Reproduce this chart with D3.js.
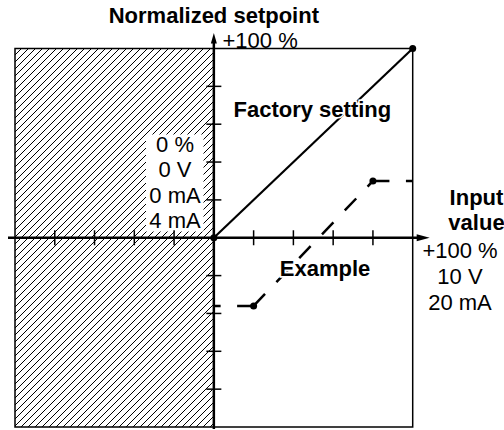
<!DOCTYPE html>
<html>
<head>
<meta charset="utf-8">
<script src="https://cdn.jsdelivr.net/npm/d3@7"></script>
<style>
  html, body { margin: 0; padding: 0; background: #fff; }
  svg { display: block; font-family: "Liberation Sans", Arial, Helvetica, sans-serif; }
</style>
</head>
<body>
<svg id="chart" width="504" height="430"></svg>
<script>
// Axis ticks (percent of full scale)
const xTicks = [-80, -60, -40, -20, 20, 40, 60, 80];
const yTicks = [-80, -60, -40, -20, 20, 40, 60, 80];

// Factory setting: input 0..100 % maps to setpoint 0..100 %
const factoryX = [0, 100];
const factoryY = [0, 100];

// Example scaling curve
const exampleX = [0, 20, 80, 100];
const exampleY = [-36, -36, 30, 30];

// Text labels
const zeroLabels = ["0 %", "0 V", "0 mA", "4 mA"];
const fullLabels = ["+100 %", "10 V", "20 mA"];
const inputTitle = ["Input", "value"];
const yTitle = "Normalized setpoint";
const yTopLabel = "+100 %";
const factoryLabel = "Factory setting";
const exampleLabel = "Example";

const svg = d3.select("#chart");

const x = d3.scaleLinear().domain([-100, 100]).range([15, 412.7]);
const y = d3.scaleLinear().domain([-100, 100]).range([427, 48.5]);

// Diagonal hatching for the inactive (negative input) region
const defs = svg.append("defs");
const H = 7;
const pat = defs.append("pattern")
  .attr("id", "hatch")
  .attr("patternUnits", "userSpaceOnUse")
  .attr("width", H).attr("height", H);
pat.append("path")
  .attr("d", `M0,${H} L${H},0 M-2,2 L2,-2 M${H - 2},${H + 2} L${H + 2},${H - 2}`)
  .attr("stroke", "#000").attr("stroke-width", 1);

svg.append("rect")
  .attr("x", x(-100)).attr("y", y(100))
  .attr("width", x(0) - x(-100)).attr("height", y(-100) - y(100))
  .attr("fill", "url(#hatch)");

// Clear area behind the zero-point labels
svg.append("rect")
  .attr("x", 146).attr("y", 134.5)
  .attr("width", 57.5).attr("height", 97)
  .attr("fill", "#fff");

// Frame
svg.append("rect")
  .attr("x", x(-100)).attr("y", y(100))
  .attr("width", x(100) - x(-100)).attr("height", y(-100) - y(100))
  .attr("fill", "none").attr("stroke", "#000").attr("stroke-width", 1.5);

// Axes
const x0 = x(0), y0 = y(0);
svg.append("line")
  .attr("x1", 8).attr("x2", x(100) + 6).attr("y1", y0).attr("y2", y0)
  .attr("stroke", "#000").attr("stroke-width", 2.5);
svg.append("path")
  .attr("d", `M${x(100) + 17},${y0} L${x(100) + 4},${y0 - 3.5} L${x(100) + 4},${y0 + 3.5} Z`)
  .attr("fill", "#000");

svg.append("line")
  .attr("x1", x0).attr("x2", x0).attr("y1", y(-100) + 2).attr("y2", y(100) - 6)
  .attr("stroke", "#000").attr("stroke-width", 2.5);
svg.append("path")
  .attr("d", `M${x0},${y(100) - 15.5} L${x0 - 3},${y(100) - 5} L${x0 + 3},${y(100) - 5} Z`)
  .attr("fill", "#000");

// Tick marks
svg.selectAll("line.xt").data(xTicks).join("line")
  .attr("class", "xt")
  .attr("x1", d => x(d)).attr("x2", d => x(d))
  .attr("y1", y0 - 7.5).attr("y2", y0 + 7.5)
  .attr("stroke", "#000").attr("stroke-width", 1.5);
svg.selectAll("line.yt").data(yTicks).join("line")
  .attr("class", "yt")
  .attr("y1", d => y(d)).attr("y2", d => y(d))
  .attr("x1", x0 - 7.5).attr("x2", x0 + 7.5)
  .attr("stroke", "#000").attr("stroke-width", 1.5);

// Factory setting line
const line = d3.line().x(d => x(d[0])).y(d => y(d[1]));
const factoryPts = factoryX.map((v, i) => [v, factoryY[i]]);
svg.append("path")
  .attr("d", line(factoryPts))
  .attr("fill", "none").attr("stroke", "#000").attr("stroke-width", 2.2);

// Example curve: dashed segments, each starting at a breakpoint
const examplePts = exampleX.map((v, i) => [v, exampleY[i]]);
const segs = [[1, 0], [1, 2], [2, 3]];
svg.selectAll("path.ex").data(segs).join("path")
  .attr("class", "ex")
  .attr("d", s => line([examplePts[s[0]], examplePts[s[1]]]))
  .attr("fill", "none").attr("stroke", "#000").attr("stroke-width", 2.5)
  .attr("stroke-dasharray", "16.5,16.5");

// Breakpoint dots
const dots = [factoryPts[0], factoryPts[1], examplePts[1], examplePts[2]];
svg.selectAll("circle.pt").data(dots).join("circle")
  .attr("class", "pt")
  .attr("cx", d => x(d[0])).attr("cy", d => y(d[1]))
  .attr("r", 3.5).attr("fill", "#000");

// Labels
const FS = 22;
svg.append("text")
  .attr("x", x0).attr("y", 23)
  .attr("text-anchor", "middle").attr("font-weight", "bold").attr("font-size", FS)
  .text(yTitle);
svg.append("text")
  .attr("x", 222.5).attr("y", 48)
  .attr("font-size", FS)
  .text(yTopLabel);

svg.append("text")
  .attr("x", 233.5).attr("y", 116.7)
  .attr("font-weight", "bold").attr("font-size", FS)
  .attr("stroke", "#fff").attr("stroke-width", 3).attr("paint-order", "stroke")
  .text(factoryLabel);

svg.append("text")
  .attr("x", 325).attr("y", 275.7)
  .attr("text-anchor", "middle").attr("font-weight", "bold").attr("font-size", FS)
  .attr("stroke", "#fff").attr("stroke-width", 3.5).attr("paint-order", "stroke")
  .text(exampleLabel);

const zeroY = [152, 177, 202.5, 227.5];
svg.selectAll("text.zero").data(zeroLabels).join("text")
  .attr("class", "zero")
  .attr("x", 175).attr("y", (d, i) => zeroY[i])
  .attr("text-anchor", "middle").attr("font-size", FS)
  .text(d => d);

const fullY = [258.3, 284, 310];
svg.selectAll("text.full").data(fullLabels).join("text")
  .attr("class", "full")
  .attr("x", 460).attr("y", (d, i) => fullY[i])
  .attr("text-anchor", "middle").attr("font-size", FS)
  .text(d => d);

const inY = [205, 230];
svg.selectAll("text.inp").data(inputTitle).join("text")
  .attr("class", "inp")
  .attr("x", 476.5).attr("y", (d, i) => inY[i])
  .attr("text-anchor", "middle").attr("font-weight", "bold").attr("font-size", FS)
  .text(d => d);
</script>
</body>
</html>
